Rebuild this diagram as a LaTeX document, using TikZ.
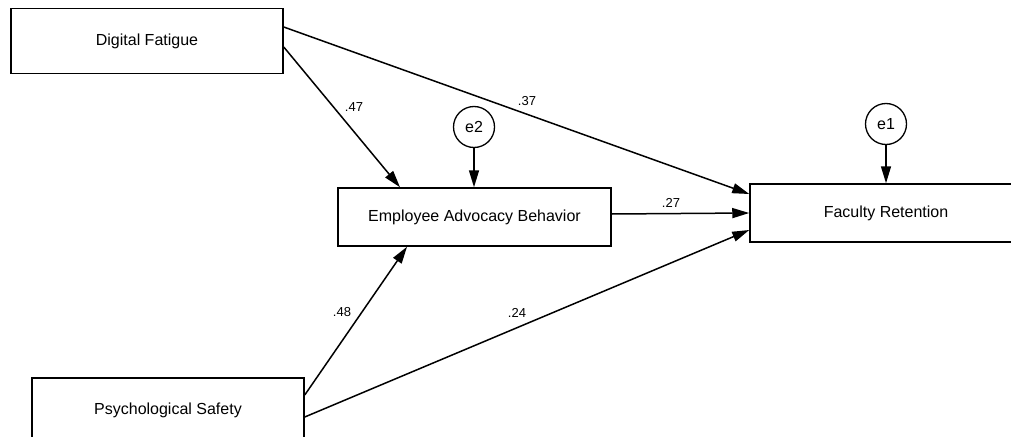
\documentclass[tikz,border=0pt]{standalone}
\usepackage{fontspec}
\setmainfont{Liberation Sans}
\usetikzlibrary{arrows.meta}
\begin{document}
\begin{tikzpicture}[x=1pt,y=-1pt,
  var/.style={draw, line width=1.5pt, fill=white, minimum width=272pt, inner sep=0pt, font=\fontsize{16}{18}\selectfont},
  err/.style={draw, circle, line width=1.3pt, fill=white, minimum size=41pt, inner sep=0pt, font=\fontsize{16}{18}\selectfont},
  path/.style={line width=1.5pt, -{Triangle[length=17pt,width=10pt]}},
  coef/.style={font=\fontsize{13}{15}\selectfont, inner sep=0pt}]
\useasboundingbox (0,0) rectangle (1011,436);
\clip (0,0) rectangle (1011,436);
\fill[white] (0,0) rectangle (1011,436);
\node[var, minimum height=65pt] (DF) at (147,41) {Digital Fatigue};
\node[var, minimum height=58pt, minimum width=273pt] (EAB) at (474.5,217) {Employee Advocacy Behavior};
\node[var, minimum height=58pt] (FR) at (886,213) {Faculty Retention};
\node[var, minimum height=65pt] (PS) at (168,410.5) {Psychological Safety};
\node[err] (e2) at (474,127) {e2};
\node[err] (e1) at (886,124) {e1};
\draw[path] ([yshift=14pt]DF.east) -- ([yshift=19pt]FR.west);
\draw[path] ([yshift=-6pt]DF.east) -- ([xshift=-74.5pt]EAB.north);
\draw[path] ([yshift=3pt]EAB.east) -- (FR.west);
\draw[path] ([yshift=15.5pt]PS.east) -- ([xshift=-67.5pt]EAB.south);
\draw[path] ([yshift=-6.5pt]PS.east) -- ([yshift=-17pt]FR.west);
\draw[path] (e2.south) -- (e2.south |- EAB.north);
\draw[path] (e1.south) -- (e1.south |- FR.north);
\node[coef] (c47) at (354,107) {.47};
\node[coef] (c37) at (527,101) {.37};
\node[coef] (c27) at (671,203) {.27};
\node[coef] (c48) at (342,312) {.48};
\node[coef] (c24) at (517,313) {.24};
\end{tikzpicture}
\end{document}
